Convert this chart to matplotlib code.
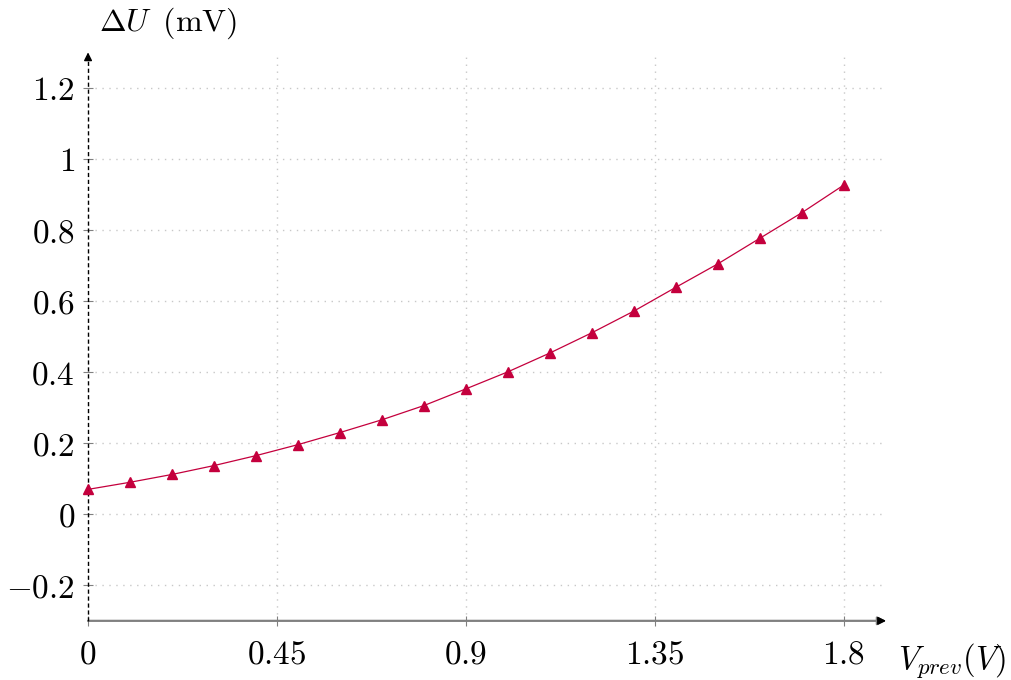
import numpy as np
import matplotlib
matplotlib.use("Agg")
import matplotlib.pyplot as plt

plt.rcParams["mathtext.fontset"] = "cm"
plt.rcParams["font.family"] = "serif"
plt.rcParams["font.serif"] = ["DejaVu Serif"]

# data
v_prev = [0.0, 0.1, 0.2, 0.3, 0.4, 0.5, 0.6, 0.7, 0.8, 0.9,
          1.0, 1.1, 1.2, 1.3, 1.4, 1.5, 1.6, 1.7, 1.8]
delta_u = [0.070, 0.090, 0.112, 0.137, 0.165, 0.196, 0.230, 0.266, 0.306, 0.353,
           0.401, 0.454, 0.511, 0.572, 0.639, 0.705, 0.777, 0.849, 0.927]

x_ticks = [0, 0.45, 0.9, 1.35, 1.8]
x_tick_labels = ["0", "0.45", "0.9", "1.35", "1.8"]
y_ticks = [-0.2, 0, 0.2, 0.4, 0.6, 0.8, 1.0, 1.2]
y_tick_labels = ["-0.2", "0", "0.2", "0.4", "0.6", "0.8", "1", "1.2"]

xmin, xmax = 0, 1.9
ymin, ymax = -0.3, 1.3
line_col = "#C4003D"
grid_col = "#c8c8c8"

fig = plt.figure(figsize=(10.12, 6.8), dpi=100)
ax = fig.add_axes([0.087, 0.087, 0.7885, 0.836])

ax.plot(v_prev, delta_u, color=line_col, lw=0.9, marker="^", ms=7.5,
        mec=line_col, mfc=line_col, zorder=5, clip_on=False)

ax.set_xlim(xmin, xmax)
ax.set_ylim(ymin, ymax)

for s in ax.spines.values():
    s.set_visible(False)

ax.set_xticks(x_ticks)
ax.set_xticklabels(["$%s$" % t for t in x_tick_labels])
ax.set_yticks(y_ticks)
ax.set_yticklabels(["$%s$" % t for t in y_tick_labels])
ax.tick_params(axis="both", direction="inout", length=7, width=0.8,
               color="#808080", labelsize=24)
ax.tick_params(axis="x", pad=9)
ax.tick_params(axis="y", pad=6)

ax.grid(True, ls=(0, (1, 4)), color=grid_col, lw=1.0)

# axis lines with arrows
ax.annotate("", xy=(xmax, ymin), xytext=(xmin, ymin),
            arrowprops=dict(arrowstyle="-|>", color="#808080", lw=1.6,
                            mutation_scale=12, shrinkA=0, shrinkB=0),
            annotation_clip=False)
ax.annotate("", xy=(xmax, ymin), xytext=(xmax - 0.01, ymin),
            arrowprops=dict(arrowstyle="-|>", color="black", lw=1.0,
                            mutation_scale=12, shrinkA=0, shrinkB=0),
            annotation_clip=False)
ax.plot([xmin, xmin], [ymin, ymax - 0.02], color="black", lw=1.0,
        ls=(0, (3, 2)), clip_on=False, zorder=4)
ax.annotate("", xy=(xmin, ymax), xytext=(xmin, ymax - 0.01),
            arrowprops=dict(arrowstyle="-|>", color="black", lw=1.0,
                            mutation_scale=12, shrinkA=0, shrinkB=0),
            annotation_clip=False)

fig.text(0.098, 0.966, r"$\Delta U\;\;(\mathrm{mV})$", fontsize=23,
         ha="left", va="center")
fig.text(0.887, 0.028, r"$V_{prev}(V)$", fontsize=23.5, ha="left", va="center")

fig.savefig("out.png", dpi=100)
